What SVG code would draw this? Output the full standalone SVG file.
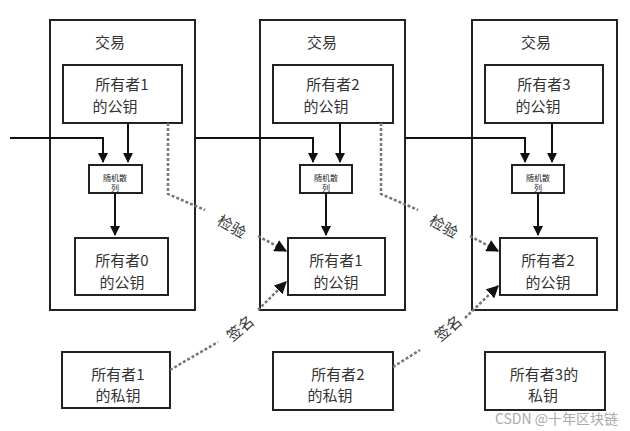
<svg xmlns="http://www.w3.org/2000/svg" width="630" height="431" viewBox="0 0 630 431">
<style>
.b{fill:#fff;stroke:#222;stroke-width:2}
.t{font-family:"Noto Sans CJK SC",sans-serif;font-size:15px;fill:#333;text-anchor:middle}
.s{font-family:"Noto Sans CJK SC",sans-serif;font-size:8px;fill:#222;text-anchor:middle}
.l{stroke:#111;stroke-width:2;fill:none}
.d{stroke:#777;stroke-width:2.5;fill:none;stroke-dasharray:3 2}
</style>
<defs>
<marker id="a" viewBox="0 0 10 10" refX="9" refY="5" markerWidth="5" markerHeight="5" orient="auto"><path d="M0,0L10,5L0,10z" fill="#111"/></marker>
</defs>
<rect width="630" height="431" fill="#fff"/>
<g id="tx1"><rect class="b" x="50" y="20" width="145" height="290"/><text class="t" x="110" y="48">交易</text></g>
<g id="tx2"><rect class="b" x="260" y="20" width="145" height="290"/><text class="t" x="322" y="48">交易</text></g>
<g id="tx3"><rect class="b" x="472" y="20" width="145" height="290"/><text class="t" x="536" y="48">交易</text></g>
<g id="pub1"><rect class="b" x="63" y="65" width="119" height="58"/><text class="t" x="122" y="90">所有者1</text><text class="t" x="115" y="112">的公钥</text></g>
<g id="pub2"><rect class="b" x="273" y="65" width="120" height="58"/><text class="t" x="333" y="90">所有者2</text><text class="t" x="326" y="112">的公钥</text></g>
<g id="pub3"><rect class="b" x="485" y="65" width="118" height="58"/><text class="t" x="544" y="90">所有者3</text><text class="t" x="538" y="112">的公钥</text></g>
<g id="h1"><rect class="b" x="89" y="165" width="53" height="28"/><text class="s" x="115" y="181">随机散</text><text class="s" x="115" y="191">列</text></g>
<g id="h2"><rect class="b" x="300" y="165" width="52" height="28"/><text class="s" x="326" y="181">随机散</text><text class="s" x="326" y="191">列</text></g>
<g id="h3"><rect class="b" x="512" y="165" width="52" height="28"/><text class="s" x="538" y="181">随机散</text><text class="s" x="538" y="191">列</text></g>
<g id="o0"><rect class="b" x="75" y="238" width="93" height="57"/><text class="t" x="122" y="266">所有者0</text><text class="t" x="122" y="288">的公钥</text></g>
<g id="o1"><rect class="b" x="288" y="238" width="97" height="57"/><text class="t" x="336" y="266">所有者1</text><text class="t" x="336" y="288">的公钥</text></g>
<g id="o2"><rect class="b" x="500" y="238" width="97" height="57"/><text class="t" x="548" y="266">所有者2</text><text class="t" x="548" y="288">的公钥</text></g>
<g id="k1"><rect class="b" x="62" y="352" width="108" height="56"/><text class="t" x="118" y="380">所有者1</text><text class="t" x="118" y="401">的私钥</text></g>
<g id="k2"><rect class="b" x="273" y="352" width="120" height="58"/><text class="t" x="338" y="380">所有者2</text><text class="t" x="330" y="401">的私钥</text></g>
<g id="k3"><rect class="b" x="485" y="352" width="120" height="58"/><text class="t" x="544" y="380">所有者3的</text><text class="t" x="543" y="401">私钥</text></g>
<g id="connectors">
<path class="l" d="M10,138H103V162" marker-end="url(#a)"/>
<path class="l" d="M128,123V162" marker-end="url(#a)"/>
<path class="l" d="M115,193V235" marker-end="url(#a)"/>
<path class="l" d="M195,138H313V162" marker-end="url(#a)"/>
<path class="l" d="M340,123V162" marker-end="url(#a)"/>
<path class="l" d="M326,193V235" marker-end="url(#a)"/>
<path class="l" d="M405,138H525V162" marker-end="url(#a)"/>
<path class="l" d="M552,123V162" marker-end="url(#a)"/>
<path class="l" d="M538,193V235" marker-end="url(#a)"/>
<path class="d" d="M168,123V194L205,210"/>
<path class="d" d="M258,236L286,251" marker-end="url(#a)"/>
<path class="d" d="M381,123V194L418,210"/>
<path class="d" d="M470,236L498,251" marker-end="url(#a)"/>
<path class="d" d="M170,370L218,342"/>
<path class="d" d="M258,310L286,282" marker-end="url(#a)"/>
<path class="d" d="M393,367L420,350"/>
<path class="d" d="M465,318L498,286" marker-end="url(#a)"/>
<text class="t" x="232" y="232" transform="rotate(30 232 226)">检验</text>
<text class="t" x="444" y="232" transform="rotate(30 444 226)">检验</text>
<text class="t" x="240" y="334" transform="rotate(-40 240 328)">签名</text>
<text class="t" x="448" y="334" transform="rotate(-40 448 328)">签名</text>
</g>
<text x="618" y="424" font-family="Noto Sans CJK SC,sans-serif" font-size="14" fill="#aaa" text-anchor="end">CSDN @十年区块链</text>
</svg>
